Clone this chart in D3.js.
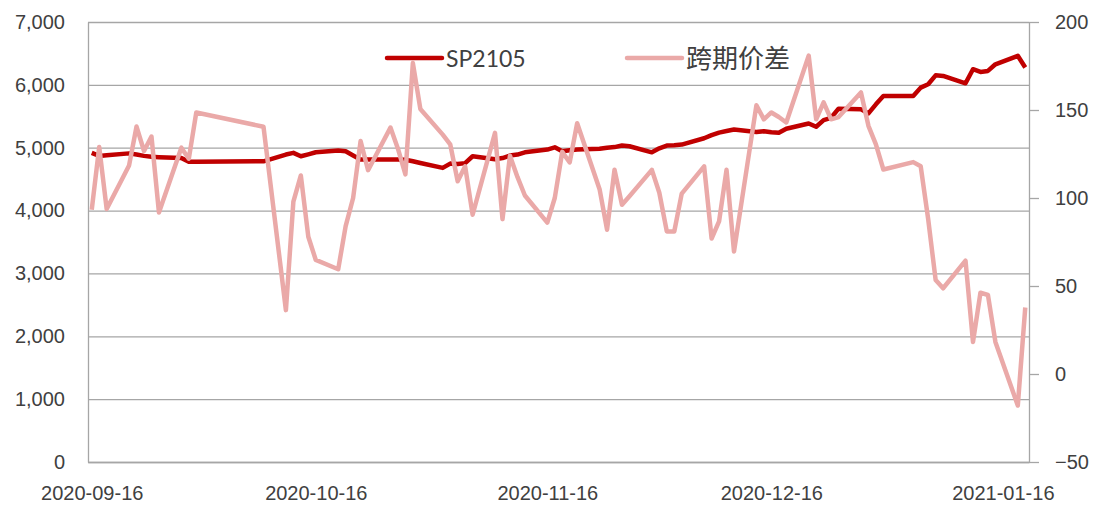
<!DOCTYPE html>
<html>
<head>
<meta charset="utf-8">
<script src="https://d3js.org/d3.v7.min.js"></script>
<style>
  body { margin: 0; background: #fff; }
  svg { display: block; font-family: Lato, "Noto Sans", sans-serif; }
  .axis text { fill: #404040; font-size: 20px; }
  .legend-label { fill: #404040; }
</style>
</head>
<body>
<svg id="chart"></svg>
<script>
// trading days, grouped by month
const sepDays = [16, 17, 18, 21, 22, 23, 24, 25, 28, 29, 30];
const octDays = [9, 12, 13, 14, 15, 16, 19, 20, 21, 22, 23, 26, 27, 28, 29, 30];
const novDays = [2, 3, 4, 5, 6, 9, 10, 11, 12, 13, 16, 17, 18, 19, 20, 23, 24, 25, 26, 27, 30];
const decDays = [1, 2, 3, 4, 7, 8, 9, 10, 11, 14, 15, 16, 17, 18, 21, 22, 23, 24, 25, 28, 29, 30, 31];
const janDays = [4, 5, 6, 7, 8, 11, 12, 13, 14, 15, 18, 19];

// SP2105 price (left axis)
const sp2105 = [
  4918, 4870, 4880, 4910, 4891, 4870, 4855, 4850, 4838, 4775, 4775,
  4784, 4891, 4918, 4864, 4895, 4928, 4955, 4943, 4877, 4811, 4811, 4811, 4811, 4808, 4784, 4756,
  4679, 4747, 4740, 4755, 4864, 4815, 4835, 4875, 4891, 4927, 4970, 5007, 4943, 4960, 4971, 4982, 5000, 5010, 5034, 5023, 4927,
  4990, 5034, 5040, 5050, 5150, 5200, 5240, 5265, 5290, 5250, 5263, 5245, 5237, 5301, 5386, 5333, 5440, 5476, 5621, 5610, 5546, 5690, 5822,
  5822, 5956, 6009, 6151, 6142, 6025, 6249, 6206, 6222, 6327, 6462, 6276
];

// 跨期价差 (right axis)
const spread = [
  93.3, 129, 93.8, 118.5, 140.6, 126.7, 134.9, 91.8, 128.6, 122.3, 148.6,
  140.5, 36.3, 98, 112.8, 78, 64.8, 59.5, 84, 100, 132.4, 115.8, 140, 128, 113.4, 176.7, 150.6,
  136, 130.5, 109.5, 118, 90.5, 137, 88, 124, 112, 101.4, 86, 100, 126.2, 120.2, 142.5, 105, 82, 116, 96.2, 101, 116,
  103, 81, 81, 102.5, 118, 77, 86.7, 116, 69.6, 152.7, 144.7, 148.6, 146, 142.9, 180.9, 144.7, 154.3, 144.7, 146, 160, 141, 130.5, 116.2,
  120.4, 118, 88, 53.4, 48.7, 64.4, 18.2, 46.2, 44.9, 18.2, -17.9, 37.8
];

const leftTicks = [0, 1000, 2000, 3000, 4000, 5000, 6000, 7000];
const rightTicks = [-50, 0, 50, 100, 150, 200];
const xTickLabels = ['2020-09-16', '2020-10-16', '2020-11-16', '2020-12-16', '2021-01-16'];
const seriesNames = ['SP2105', '跨期价差'];

const parseDay = d3.timeParse('%Y-%m-%d');
const dates = [].concat(
  sepDays.map(d => new Date(2020, 8, d)),
  octDays.map(d => new Date(2020, 9, d)),
  novDays.map(d => new Date(2020, 10, d)),
  decDays.map(d => new Date(2020, 11, d)),
  janDays.map(d => new Date(2021, 0, d))
);

class DualAxisLine {
  constructor(_config, _data) {
    this.config = {
      parentElement: _config.parentElement,
      containerWidth: _config.containerWidth || 1103,
      containerHeight: _config.containerHeight || 506,
      margin: _config.margin || { top: 22, right: 74, bottom: 44, left: 88 }
    };
    this.data = _data;
    this.initVis();
  }

  initVis() {
    let vis = this;
    vis.width = vis.config.containerWidth - vis.config.margin.left - vis.config.margin.right;
    vis.height = vis.config.containerHeight - vis.config.margin.top - vis.config.margin.bottom;

    // date axis, each day is one bin and points sit in the middle of it
    vis.xScale = d3.scaleTime()
      .domain([new Date(2020, 8, 16), new Date(2021, 0, 20)])
      .range([0, vis.width]);

    vis.yScaleL = d3.scaleLinear().domain([0, 7000]).range([vis.height, 0]);
    vis.yScaleR = d3.scaleLinear().domain([-50, 200]).range([vis.height, 0]);

    vis.xAxis = d3.axisBottom(vis.xScale)
      .tickValues(xTickLabels.map(s => d3.timeHour.offset(parseDay(s), 12)))
      .tickFormat(d3.timeFormat('%Y-%m-%d'))
      .tickSize(0)
      .tickPadding(0);

    vis.yAxisL = d3.axisLeft(vis.yScaleL)
      .tickValues(leftTicks)
      .tickSize(-vis.width)
      .tickSizeOuter(0)
      .tickPadding(23)
      .tickFormat(d3.format(','));

    vis.yAxisR = d3.axisRight(vis.yScaleR)
      .tickValues(rightTicks)
      .tickSize(10)
      .tickSizeOuter(0)
      .tickPadding(16);

    vis.svg = d3.select(vis.config.parentElement)
      .attr('width', vis.config.containerWidth)
      .attr('height', vis.config.containerHeight);

    vis.chart = vis.svg.append('g')
      .attr('transform', `translate(${vis.config.margin.left},${vis.config.margin.top})`);

    vis.yAxisLG = vis.chart.append('g').attr('class', 'axis y-axis');
    vis.yAxisRG = vis.chart.append('g').attr('class', 'axis y-axis-r')
      .attr('transform', `translate(${vis.width},0)`);
    vis.xAxisG = vis.chart.append('g').attr('class', 'axis x-axis')
      .attr('transform', `translate(0,${vis.height})`);

    vis.lineG = vis.chart.append('g');
    vis.legendG = vis.svg.append('g');
  }

  updateVis() {
    let vis = this;
    vis.xValue = d => d3.timeHour.offset(d.date, 12);

    vis.lineL = d3.line()
      .x(d => vis.xScale(vis.xValue(d)))
      .y(d => vis.yScaleL(d.sp));

    vis.lineR = d3.line()
      .x(d => vis.xScale(vis.xValue(d)))
      .y(d => vis.yScaleR(d.spread));

    vis.renderVis();
  }

  renderVis() {
    let vis = this;

    vis.yAxisLG.call(vis.yAxisL)
      .call(g => g.selectAll('.tick line').attr('stroke', '#a6a6a6').attr('stroke-width', 1.3))
      .call(g => g.select('.domain').attr('stroke', '#a6a6a6').attr('stroke-width', 1.3));

    vis.yAxisRG.call(vis.yAxisR)
      .call(g => g.selectAll('.tick line').attr('stroke', '#a6a6a6').attr('stroke-width', 1.3))
      .call(g => g.select('.domain').attr('stroke', '#a6a6a6').attr('stroke-width', 1.3));

    vis.xAxisG.call(vis.xAxis)
      .call(g => g.select('.domain').attr('stroke', '#a6a6a6').attr('stroke-width', 1.3))
      .call(g => g.selectAll('.tick text').attr('y', 31).attr('dy', '0.35em'));

    vis.lineG.append('path')
      .datum(vis.data)
      .attr('fill', 'none')
      .attr('stroke', '#c00000')
      .attr('stroke-width', 4.5)
      .attr('stroke-linejoin', 'round')
      .attr('d', vis.lineL);

    vis.lineG.append('path')
      .datum(vis.data)
      .attr('fill', 'none')
      .attr('stroke', '#eaa9a8')
      .attr('stroke-width', 4.5)
      .attr('stroke-linejoin', 'round')
      .attr('d', vis.lineR);

    // legend
    const legendItems = [
      { name: seriesNames[0], color: '#c00000', x: 387, font: 'Lato', size: 23, base: 67 },
      { name: seriesNames[1], color: '#eaa9a8', x: 627, font: '"Noto Sans CJK SC"', size: 26, base: 68 }
    ];
    const item = vis.legendG.selectAll('.legend-item')
      .data(legendItems)
      .join('g')
      .attr('class', 'legend-item');
    item.append('line')
      .attr('x1', d => d.x).attr('x2', d => d.x + 55)
      .attr('y1', 58).attr('y2', 58)
      .attr('stroke', d => d.color)
      .attr('stroke-width', 4.5)
      .attr('stroke-linecap', 'round');
    item.append('text')
      .attr('class', 'legend-label')
      .attr('x', d => d.x + 59)
      .attr('y', d => d.base)
      .style('font-family', d => d.font)
      .style('font-size', d => d.size + 'px')
      .text(d => d.name);
  }
}

const data = dates.map((d, i) => ({ date: d, sp: sp2105[i], spread: spread[i] }));
const chart = new DualAxisLine({ parentElement: '#chart' }, data);
chart.updateVis();
</script>
</body>
</html>
